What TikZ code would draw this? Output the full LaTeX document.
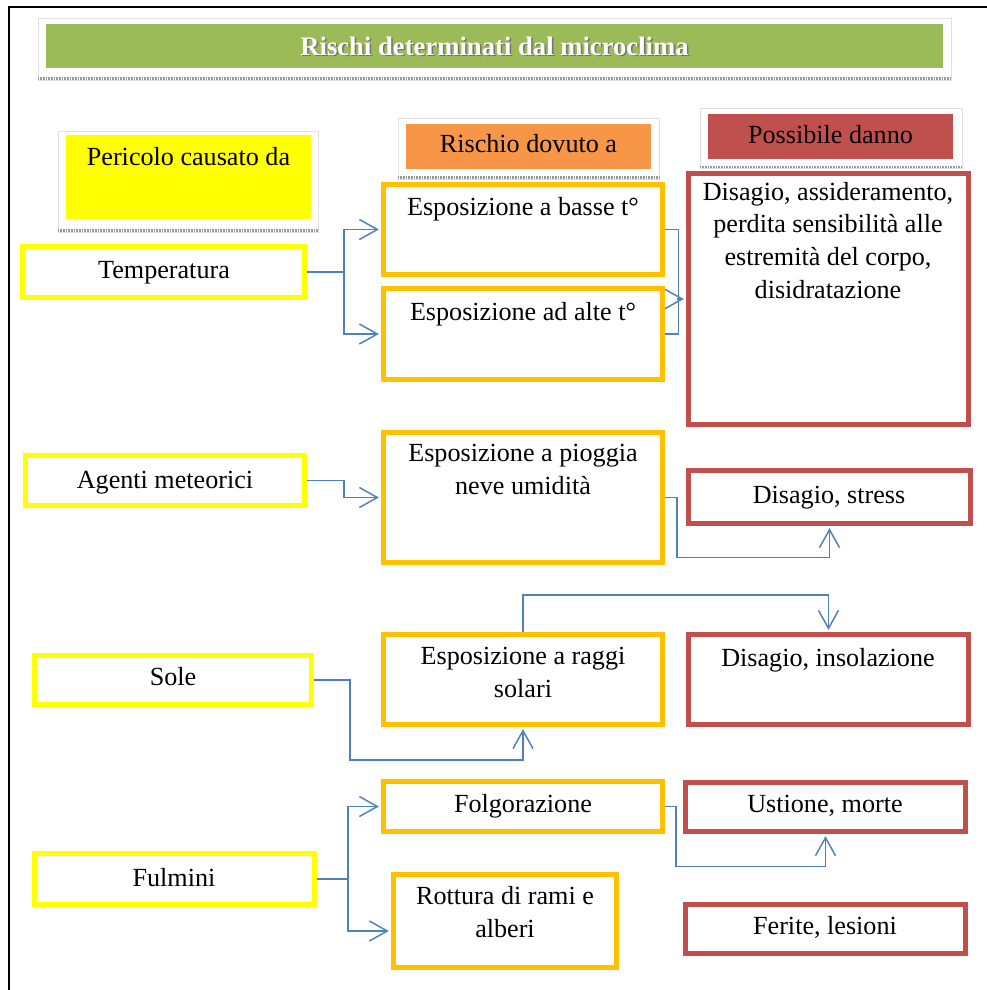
\documentclass[tikz,border=0pt]{standalone}
\usepackage{fontspec}
\setmainfont{Liberation Serif}
\usetikzlibrary{arrows.meta,fit,calc}
\definecolor{ylw}{HTML}{FFFF00}
\definecolor{org}{HTML}{FFC000}
\definecolor{rdd}{HTML}{C0504D}
\definecolor{grn}{HTML}{9BBB59}
\definecolor{hdrorg}{HTML}{F79646}
\definecolor{lnk}{HTML}{4F81BD}
\pgfdeclarelayer{bg}
\pgfsetlayers{bg,main}

\begin{document}
\begin{tikzpicture}[x=0.75pt,y=-0.75pt,
  box/.style={draw, fill=white, line width=3.75pt, inner sep=0pt},
  ybox/.style={box, draw=ylw},
  obox/.style={box, draw=org},
  rbox/.style={box, draw=rdd},
  hdr/.style={inner sep=0pt, draw=none},
  txt/.style={font=\fontsize{19.6}{24.4}\selectfont, inner sep=0pt, anchor=base, align=center},
  ttlfont/.style={font=\bfseries\fontsize{20}{24}\selectfont, inner sep=0pt, anchor=base},
  conn/.style={draw=lnk, line width=1.1pt},
  arr/.style={conn, -{Straight Barb[length=13.5pt,width=15pt]}, shorten >=1.6pt},
  frame/.style={draw=black!12, line width=0.5pt},
  band/.style={draw=black!40, line width=2.2pt, dash pattern=on 0.75pt off 0.45pt}
]
\useasboundingbox (0,0) rectangle (987,990);

% title bar
\draw[frame] (38,18) rectangle (951,80);
\draw[band] (38,78.5) -- (951,78.5);
\node[hdr, fill=grn, fit={(46,24) (943,68)}] (ttl) {};
\node[ttlfont, text=black!55] (ttlshadow) at (496,56.5) {Rischi determinati dal microclima};
\node[ttlfont, text=white] (ttltext) at (494.5,55) {Rischi determinati dal microclima};

% column headers
\draw[frame] (58,131) rectangle (318,232);
\draw[band] (58,230.5) -- (318,230.5);
\node[hdr, fill=ylw, fit={(66,135) (311,219)}] (hA) {};
\node[txt] (hAt) at (188.5,165) {Pericolo causato da};

\draw[frame] (398,118) rectangle (659,179);
\draw[band] (398,177.5) -- (659,177.5);
\node[hdr, fill=hdrorg, fit={(406,124) (651,169)}] (hB) {};
\node[txt] (hBt) at (528.5,152) {Rischio dovuto a};

\draw[frame] (700,108) rectangle (962,168);
\draw[band] (700,167) -- (962,167);
\node[hdr, fill=rdd, fit={(708,114) (953,159)}] (hC) {};
\node[txt] (hCt) at (830.5,143) {Possibile danno};

% hazards
\node[ybox, fit={(22.5,246.5) (304.5,297.5)}] (tem) {};
\node[ybox, fit={(25.5,455.5) (304.5,505.5)}] (agm) {};
\node[ybox, fit={(34.5,655.5) (311.5,704.5)}] (sol) {};
\node[ybox, fit={(34.5,853.5) (314.5,904.5)}] (ful) {};
\node[txt] (temt) at (164,278) {Temperatura};
\node[txt] (agmt) at (165,488) {Agenti meteorici};
\node[txt] (solt) at (173,685) {Sole};
\node[txt] (fult) at (174,886) {Fulmini};

% risks (multi-line texts are placed by the baseline of their last line)
\node[obox, fit={(383.5,184.5) (662.5,274.5)}] (b1) {};
\node[obox, fit={(383.5,288.5) (662.5,379.5)}] (b2) {};
\node[obox, fit={(383.5,432.5) (662.5,562.5)}] (pio) {};
\node[obox, fit={(383.5,634.5) (662.5,724.5)}] (rag) {};
\node[obox, fit={(383.5,781.5) (662.5,831.5)}] (fol) {};
\node[obox, fit={(393.5,874.5) (616.5,967.5)}] (rot) {};
\node[txt] (b1t) at (523,215) {Esposizione a basse t°};
\node[txt] (b2t) at (523,320) {Esposizione ad alte t°};
\node[txt] (piot) at (523,494) {Esposizione a pioggia\\neve umidità};
\node[txt] (ragt) at (523,697) {Esposizione a raggi\\solari};
\node[txt] (folt) at (523,812) {Folgorazione};
\node[txt] (rott) at (505,937) {Rottura di rami e\\alberi};

% damages
\node[rbox, fit={(688.5,173.5) (968.5,424.5)}] (big) {};
\node[rbox, fit={(688.5,470.5) (970.5,523.5)}] (dst) {};
\node[rbox, fit={(688.5,634.5) (968.5,724.5)}] (ins) {};
\node[rbox, fit={(685.5,782.5) (965.5,831.5)}] (ust) {};
\node[rbox, fit={(685.5,904.5) (965.5,953.5)}] (fer) {};
\node[txt] (bigt) at (828,298) {Disagio, assideramento,\\perdita sensibilità alle\\estremità del corpo,\\disidratazione};
\node[txt] (dstt) at (829,503) {Disagio, stress};
\node[txt] (inst) at (828,666) {Disagio, insolazione};
\node[txt] (ustt) at (825,812) {Ustione, morte};
\node[txt] (fert) at (825,934) {Ferite, lesioni};

% page frame and connectors, behind the boxes
\begin{pgfonlayer}{bg}
  \fill[white] (0,0) rectangle (987,990);
  \draw[line width=1.6pt] (987,7) -- (9,7) -- (9,990);

  \coordinate (hubT) at (344,272);
  \draw[conn] (tem.east) -- (hubT);
  \draw[arr] (hubT) |- (b1.west);
  \draw[arr] (hubT) |- (b2.west);

  \draw[conn] (b1.east) -- ++(13.5,0) |- (b2.east);
  \coordinate (brk) at (677,299);
  \draw[arr] (brk) -- (big.west);

  \draw[arr] (agm.east) -- (agm.east -| hubT) |- (pio.west);

  \draw[arr] (pio.east) -- ++(12,0) -- ++(0,60) -| (dst.south);

  \draw[arr] (sol.east) -- ++(36,0) -- ++(0,80) -| (rag.south);

  \draw[arr] (rag.north) -- ++(0,-37) -| (ins.north);

  \coordinate (hubF) at (348,879);
  \draw[conn] (ful.east) -- (hubF);
  \draw[arr] (hubF) |- (fol.west);
  \draw[arr] (hubF) |- ($(rot.west)+(0,10)$);

  \draw[arr] (fol.east) -- ++(11,0) -- ++(0,60) -| (ust.south);
\end{pgfonlayer}
\end{tikzpicture}
\end{document}
